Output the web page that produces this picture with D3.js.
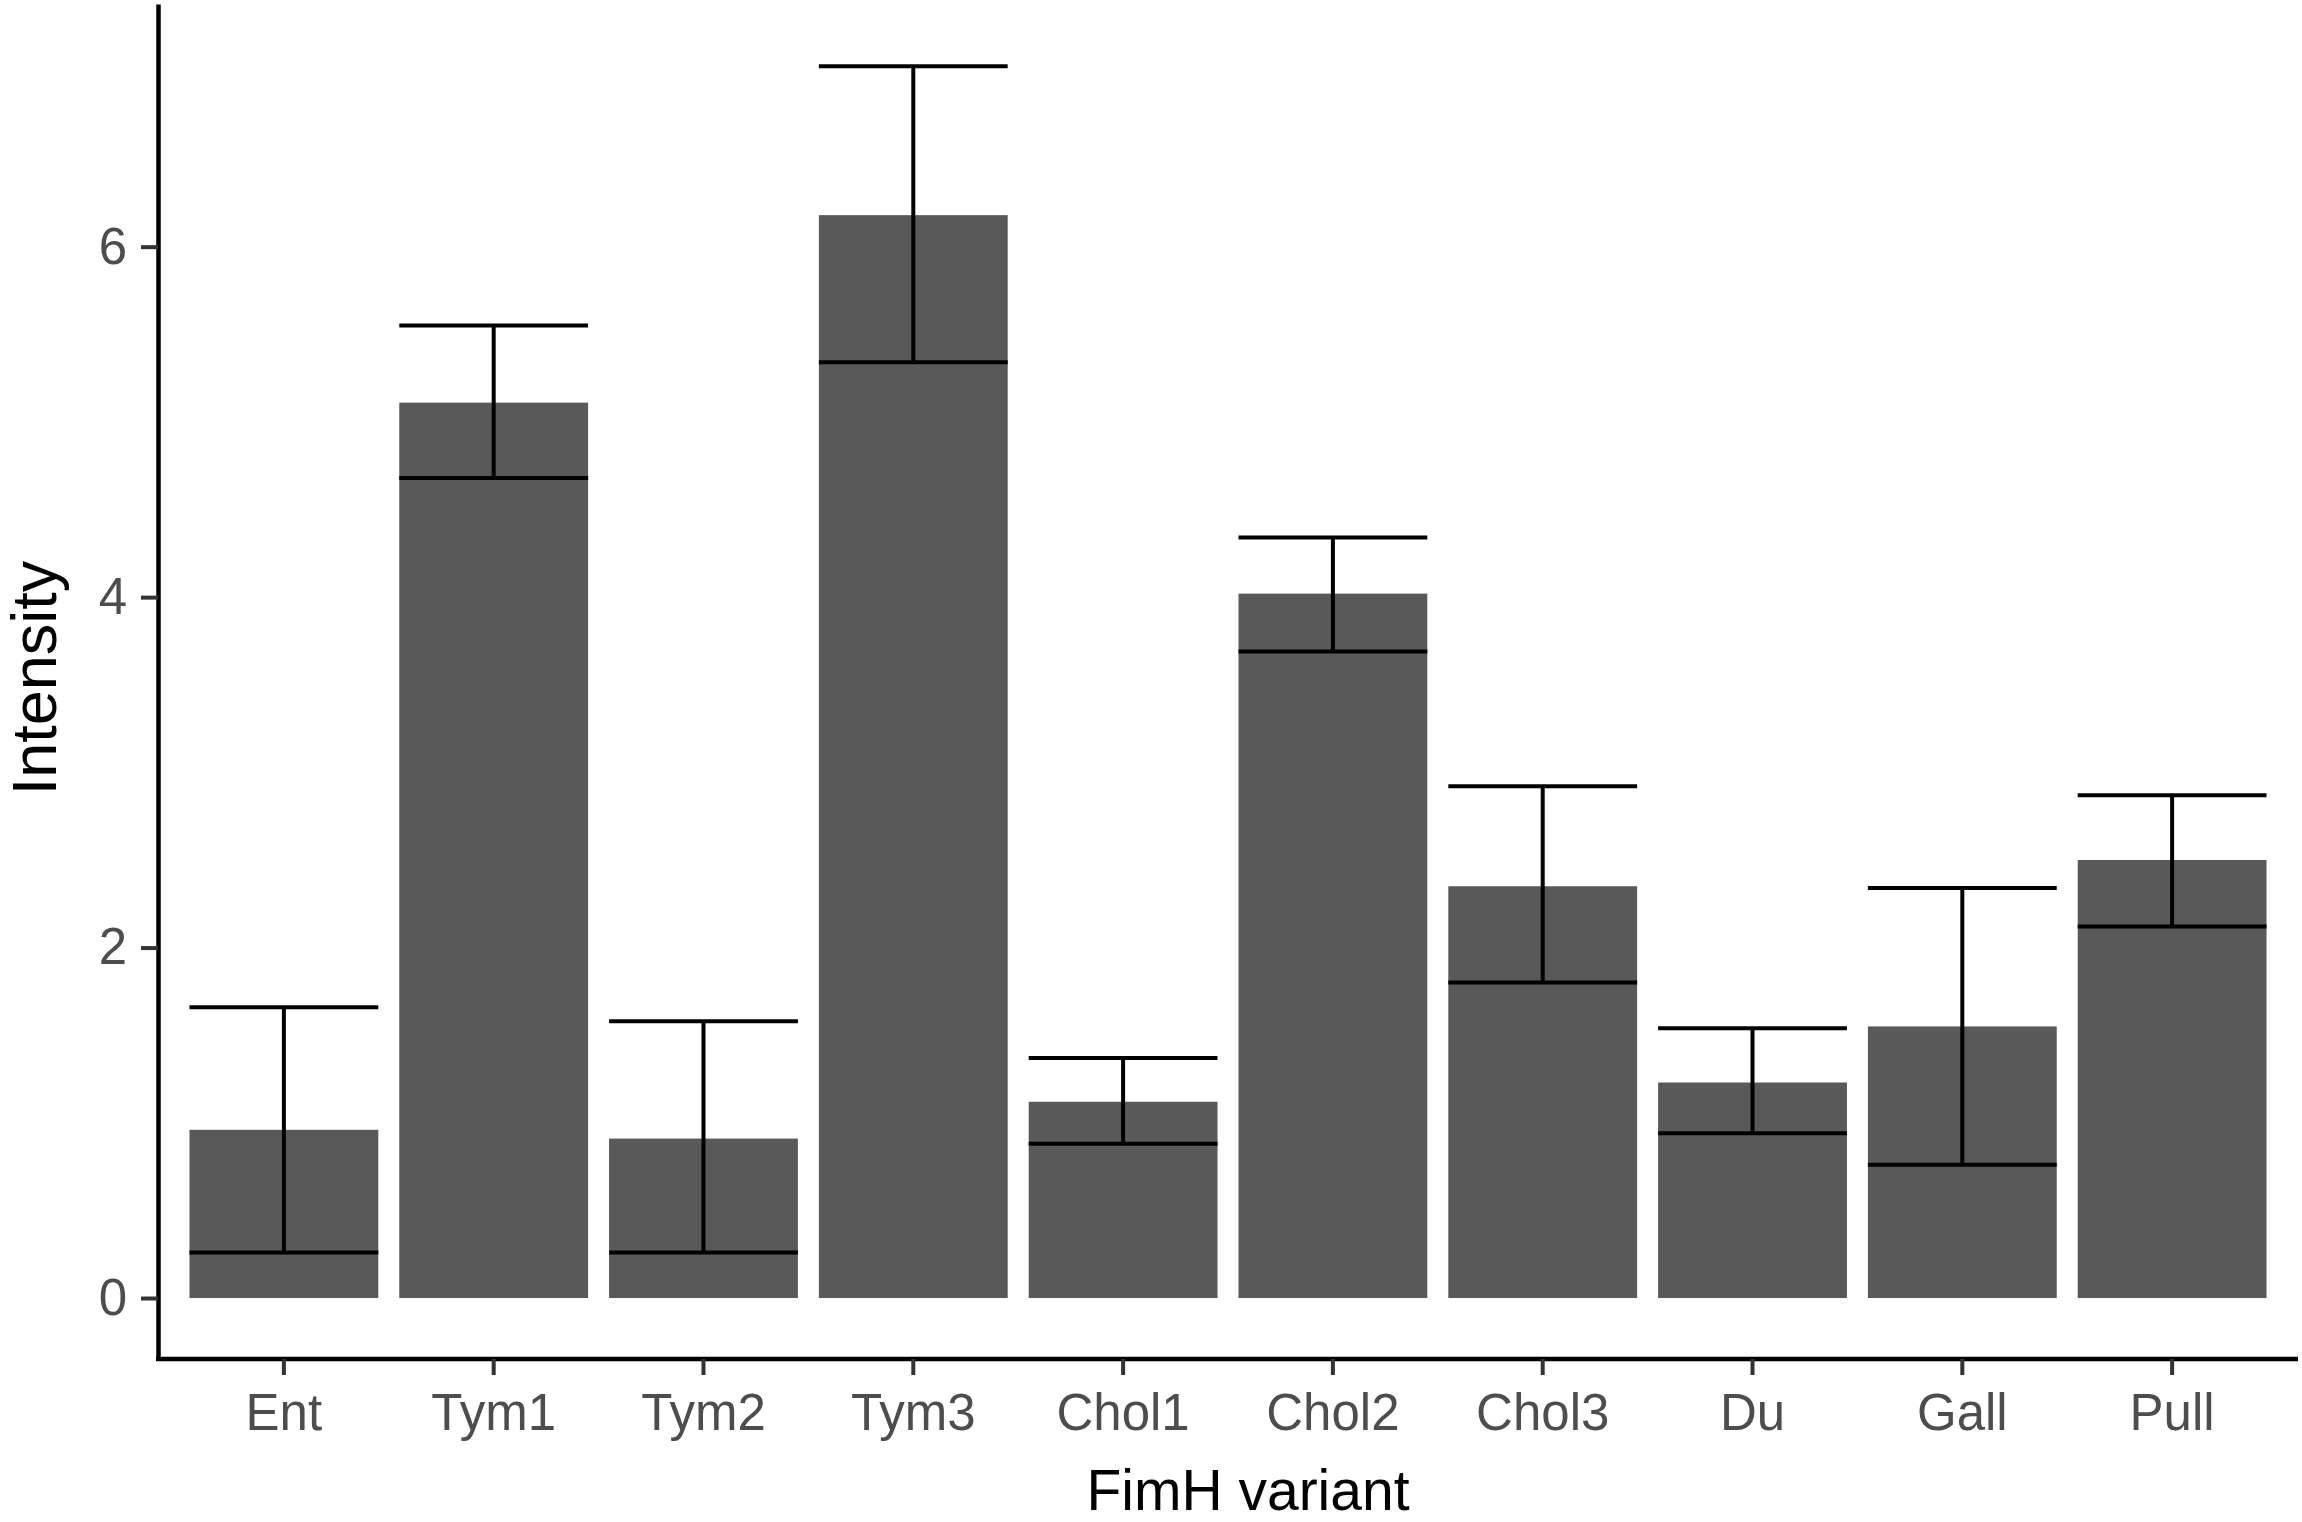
<!DOCTYPE html>
<html>
<head>
<meta charset="utf-8">
<script src="https://cdn.jsdelivr.net/npm/d3@7"></script>
<style>
  body { margin: 0; background: #fff; }
  svg text { font-family: "Liberation Sans", Arial, sans-serif; }
</style>
</head>
<body>
<div id="chart"></div>
<script>
var variants = ['Ent', 'Tym1', 'Tym2', 'Tym3', 'Chol1', 'Chol2', 'Chol3', 'Du', 'Gall', 'Pull'];
var intensity = [0.96, 5.11, 0.91, 6.18, 1.12, 4.02, 2.35, 1.23, 1.55, 2.50];
var errLow  = [0.26, 4.68, 0.26, 5.34, 0.88, 3.69, 1.80, 0.94, 0.76, 2.12];
var errHigh = [1.66, 5.55, 1.58, 7.03, 1.37, 4.34, 2.92, 1.54, 2.34, 2.87];
var yTicks = [0, 2, 4, 6];

drawChart();

function drawChart() {
  var W = 2302, H = 1522;
  var padL = 158, padR = 2298, padT = 4, padB = 1359;

  var rows = variants.map(function(v, i) {
    return { name: v, value: intensity[i], lo: errLow[i], hi: errHigh[i] };
  });

  var svg = d3.select('#chart').append('svg')
    .attr('width', W)
    .attr('height', H)
    .attr('viewBox', '0 0 ' + W + ' ' + H);

  var x = d3.scaleBand()
    .domain(variants)
    .range([padL, padR])
    .paddingInner(0.1)
    .paddingOuter(0.15);

  var y = d3.scaleLinear()
    .domain([-0.348, 7.385])
    .range([padB, padT]);

  // bars
  svg.selectAll('rect.bar')
    .data(rows)
    .enter()
    .append('rect')
    .attr('class', 'bar')
    .attr('x', function(d) { return x(d.name); })
    .attr('y', function(d) { return y(d.value); })
    .attr('width', x.bandwidth())
    .attr('height', function(d) { return y(0) - y(d.value); })
    .attr('fill', '#595959');

  // error bars
  var eb = svg.selectAll('g.err')
    .data(rows)
    .enter()
    .append('g')
    .attr('class', 'err')
    .attr('stroke', '#000')
    .attr('stroke-width', 4);

  eb.append('line')
    .attr('x1', function(d) { return x(d.name) + x.bandwidth() / 2; })
    .attr('x2', function(d) { return x(d.name) + x.bandwidth() / 2; })
    .attr('y1', function(d) { return y(d.lo); })
    .attr('y2', function(d) { return y(d.hi); });

  eb.append('line')
    .attr('x1', function(d) { return x(d.name); })
    .attr('x2', function(d) { return x(d.name) + x.bandwidth(); })
    .attr('y1', function(d) { return y(d.hi); })
    .attr('y2', function(d) { return y(d.hi); });

  eb.append('line')
    .attr('x1', function(d) { return x(d.name); })
    .attr('x2', function(d) { return x(d.name) + x.bandwidth(); })
    .attr('y1', function(d) { return y(d.lo); })
    .attr('y2', function(d) { return y(d.lo); });

  // axes
  var yAxis = svg.append('g')
    .attr('transform', 'translate(' + padL + ',0)')
    .call(d3.axisLeft(y).tickValues(yTicks).tickSize(17).tickSizeOuter(0).tickPadding(14));

  var xAxis = svg.append('g')
    .attr('transform', 'translate(0,' + padB + ')')
    .call(d3.axisBottom(x).tickSize(16).tickSizeOuter(0).tickPadding(19));

  [yAxis, xAxis].forEach(function(a) {
    a.select('.domain').attr('stroke', '#000').attr('stroke-width', 4.5);
    a.selectAll('.tick line').attr('stroke', '#333333').attr('stroke-width', 4);
    a.selectAll('.tick text')
      .attr('fill', '#4d4d4d')
      .style('font-size', '51px')
      .style('font-family', '"Liberation Sans", Arial, sans-serif');
  });

  // let the x axis line meet the y axis line at the corner
  xAxis.select('.domain').attr('d', 'M' + (padL - 2) + ',0H' + padR);

  // axis titles
  svg.append('text')
    .attr('x', 1248)
    .attr('y', 1510)
    .attr('text-anchor', 'middle')
    .attr('fill', '#000')
    .style('font-size', '57px')
    .text('FimH variant');

  svg.append('text')
    .attr('transform', 'translate(56,678) rotate(-90)')
    .attr('text-anchor', 'middle')
    .attr('fill', '#000')
    .style('font-size', '63px')
    .text('Intensity');
}
</script>
</body>
</html>
